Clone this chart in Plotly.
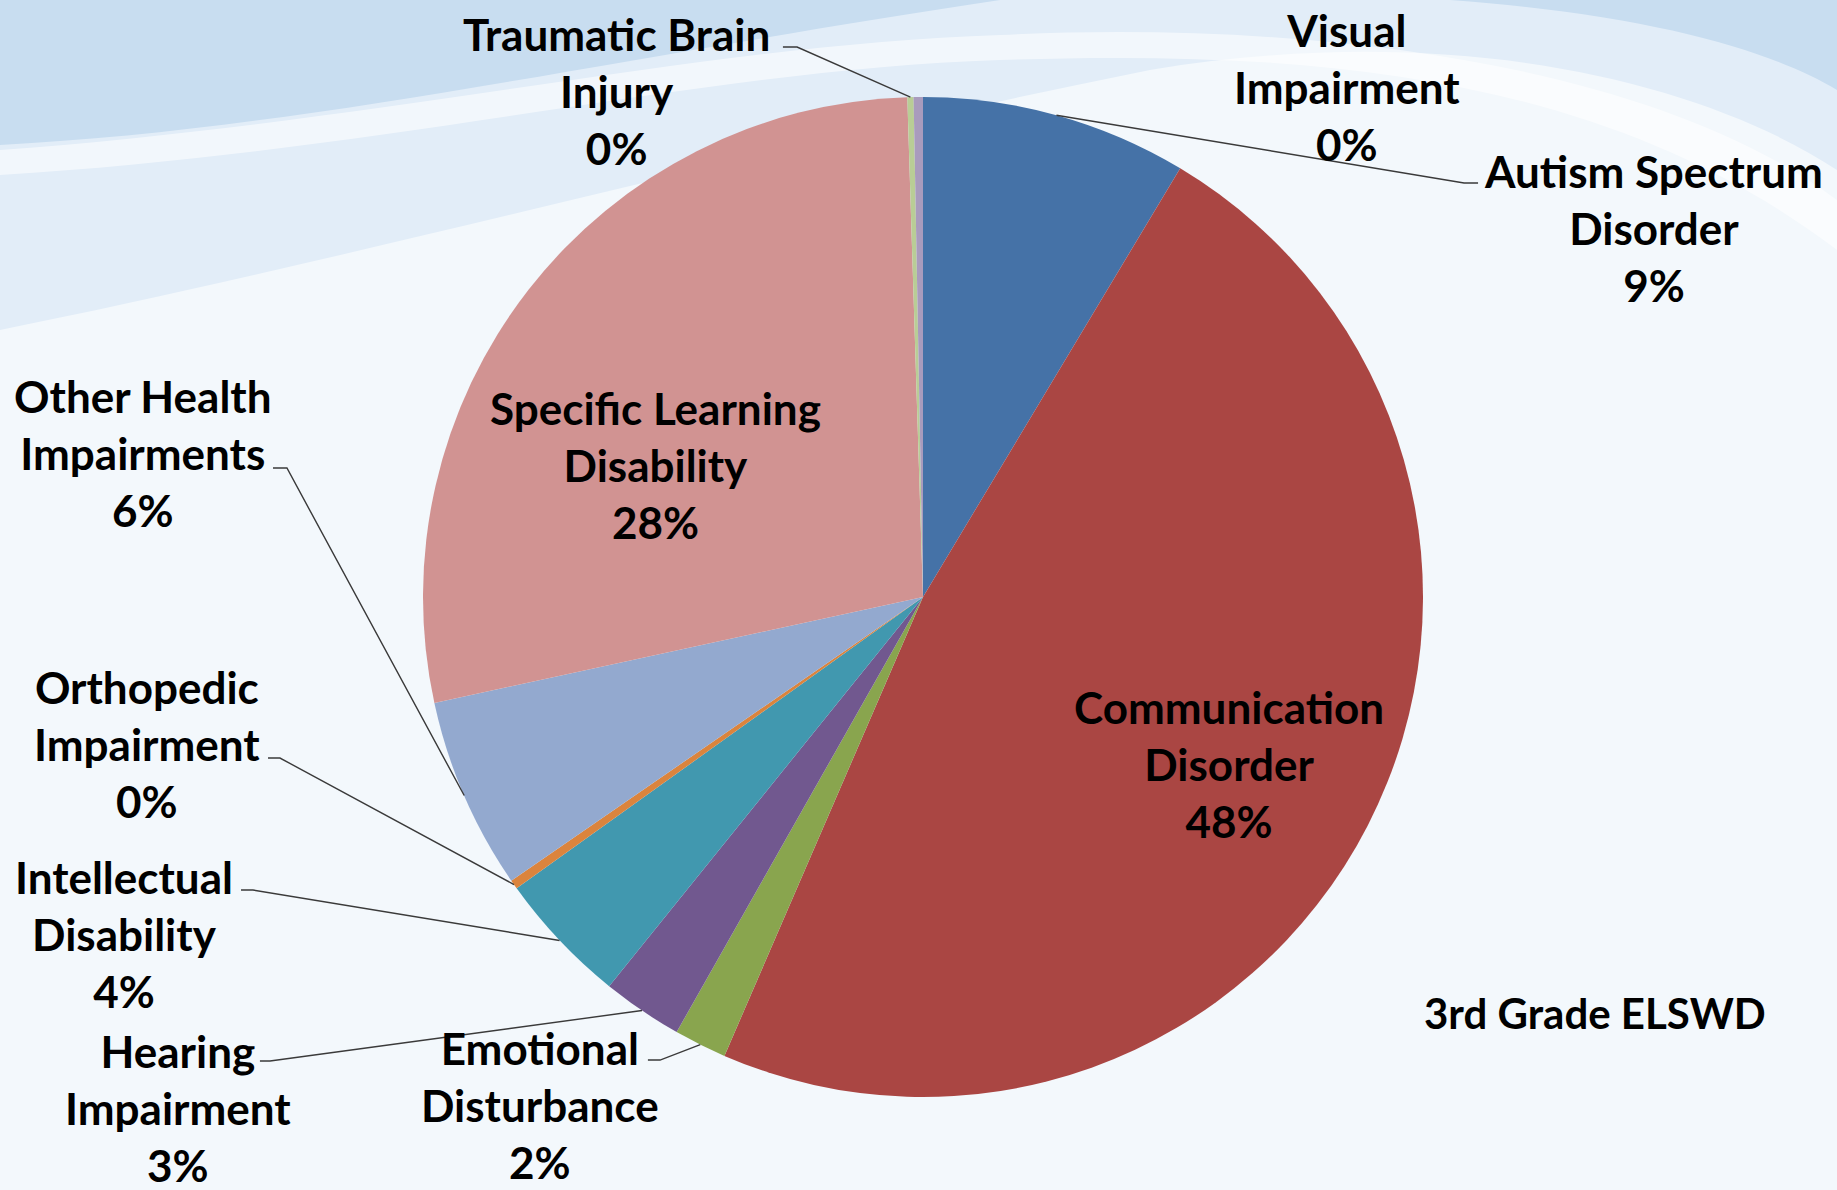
import math
import plotly.graph_objects as go

# data (percent of 3rd grade ELSWD), clockwise from 12 o'clock
categories = [
    "Autism Spectrum Disorder", "Communication Disorder", "Emotional Disturbance",
    "Hearing Impairment", "Intellectual Disability", "Orthopedic Impairment",
    "Other Health Impairments", "Specific Learning Disability",
    "Traumatic Brain Injury", "Visual Impairment",
]
values = [8.6, 47.9, 1.7, 2.6, 4.3, 0.3, 6.2, 27.9, 0.2, 0.3]
label_text = [
    "Autism Spectrum<br>Disorder", "Communication<br>Disorder", "Emotional<br>Disturbance",
    "Hearing<br>Impairment", "Intellectual<br>Disability", "Orthopedic<br>Impairment",
    "Other Health<br>Impairments", "Specific Learning<br>Disability",
    "Traumatic Brain<br>Injury", "Visual<br>Impairment",
]
colors = ['#4572A7', '#AA4643', '#89A54E', '#71588F', '#4198AF',
          '#DB843D', '#93A9CF', '#D19392', '#B9CD96', '#A99BBD']

W, H = 1837, 1190
CX, CY, R = 923, 597, 500
FONT = 'Lato, "Open Sans", sans-serif'

# label block centres in pixels (x, y of middle line)
label_pos = {
    "Autism Spectrum Disorder": (1653, 228),
    "Communication Disorder": (1229, 764),
    "Emotional Disturbance": (540, 1105),
    "Hearing Impairment": (178, 1108),
    "Intellectual Disability": (124, 934),
    "Orthopedic Impairment": (147, 744),
    "Other Health Impairments": (143, 453),
    "Specific Learning Disability": (655, 465),
    "Traumatic Brain Injury": (616, 91),
    "Visual Impairment": (1347, 87),
}
# leader tick next to the label: (x_text_side, x_pie_side, y)
leader_tick = {
    "Autism Spectrum Disorder": (1478, 1464, 183),
    "Emotional Disturbance": (648, 660, 1060),
    "Hearing Impairment": (260, 270, 1061),
    "Intellectual Disability": (241, 253, 890),
    "Orthopedic Impairment": (268, 280, 758),
    "Other Health Impairments": (273, 287, 468),
    "Traumatic Brain Injury": (783, 797, 47),
}


def px(x, y):
    return x / W, 1 - y / H


def path(points, closed=True):
    s = ""
    for i, p in enumerate(points):
        if p[0] == 'C':
            a, b, c = px(*p[1]), px(*p[2]), px(*p[3])
            s += f" C{a[0]:.4f},{a[1]:.4f} {b[0]:.4f},{b[1]:.4f} {c[0]:.4f},{c[1]:.4f}"
        else:
            x, y = px(*p)
            s += (" M" if i == 0 else " L") + f"{x:.4f},{y:.4f}"
    return s + (" Z" if closed else "")


fig = go.Figure(go.Pie(
    labels=categories,
    values=values,
    sort=False,
    direction='clockwise',
    rotation=0,
    textinfo='none',
    hoverinfo='label+percent',
    marker=dict(colors=colors, line=dict(width=0)),
    domain=dict(x=[(CX - R) / W, (CX + R) / W], y=[(H - CY - R) / H, (H - CY + R) / H]),
    showlegend=False,
))

# background waves (soft)
shapes = [
    dict(type='path', path=path([(0, 0), (0, 330), ('C', (350, 260), (750, 150), (1150, 70)),
                                 ('C', (1450, 20), (1700, 80), (1837, 170)), (1837, 0)]),
         fillcolor='#e2edf8', line=dict(width=0), layer='below'),
    dict(type='path', path=path([(0, 175), ('C', (400, 150), (700, 70), (1000, 60)),
                                 ('C', (1300, 50), (1600, 70), (1837, 250)), (1837, 200),
                                 ('C', (1650, 60), (1300, 20), (1000, 35)),
                                 ('C', (700, 45), (400, 120), (0, 150))]),
         fillcolor='rgba(255,255,255,0.55)', line=dict(width=0), layer='below'),
    dict(type='path', path=path([(0, 0), (0, 145), ('C', (300, 130), (600, 60), (1000, 0))]),
         fillcolor='#c8ddf0', line=dict(width=0), layer='below'),
    dict(type='path', path=path([(1450, 0), ('C', (1650, 15), (1770, 50), (1837, 90)), (1837, 0)]),
         fillcolor='#c8ddf0', line=dict(width=0), layer='below'),
]

annotations = []
total = sum(values)
cum = 0.0
for name, txt, v in zip(categories, label_text, values):
    theta = 2 * math.pi * (cum + v / 2) / total
    cum += v
    ex, ey = CX + R * math.sin(theta), CY - R * math.cos(theta)
    lx, ly = label_pos[name]
    x, y = px(lx, ly)
    annotations.append(dict(
        text=f"{txt}<br>{v / total * 100:.0f}%", x=x, y=y, xref='paper', yref='paper',
        xanchor='center', yanchor='middle', showarrow=False, align='center',
        font=dict(family=FONT, size=44, color='#000000', weight='bold'),
    ))
    if name in leader_tick:
        x1, x2, ty = leader_tick[name]
        shapes.append(dict(type='path', path=path([(x1, ty), (x2, ty), (ex, ey)], closed=False),
                           line=dict(color='#3a3a3a', width=1.4), xref='paper', yref='paper'))

tx, ty = px(1595, 1013)
annotations.append(dict(
    text="3rd Grade ELSWD", x=tx, y=ty, xref='paper', yref='paper',
    xanchor='center', yanchor='middle', showarrow=False,
    font=dict(family=FONT, size=42, color='#000000', weight='bold'),
))

fig.update_layout(
    width=W, height=H,
    margin=dict(l=0, r=0, t=0, b=0),
    paper_bgcolor='#f3f8fc',
    plot_bgcolor='#f3f8fc',
    shapes=shapes,
    annotations=annotations,
)

fig.write_html(
    "out.html",
    config={'displayModeBar': False},
    post_script="document.body.style.margin='0';document.body.style.overflow='hidden';",
)
